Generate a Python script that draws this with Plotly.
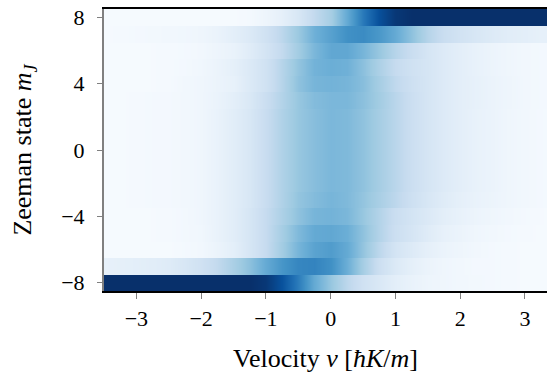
import plotly.graph_objects as go

# Velocity grid (hbar K / m) and Zeeman states
velocity = [-3.5, -3.25, -3.0, -2.75, -2.5, -2.25, -2.0, -1.75, -1.5, -1.25, -1.0, -0.75, -0.5, -0.25,
            0.0, 0.25, 0.5, 0.75, 1.0, 1.25, 1.5, 1.75, 2.0, 2.25, 2.5, 2.75, 3.0, 3.25, 3.5]
m_states = list(range(-8, 9))

# Population (normalised to colour scale) per Zeeman state
row_m8 = [1.0, 1.0, 1.0, 1.0, 1.0, 1.0, 1.0, 1.0, 1.0, 1.0, 0.97, 0.87, 0.71, 0.52,
          0.39, 0.28, 0.2, 0.15, 0.1, 0.07, 0.05, 0.04, 0.03, 0.025, 0.02, 0.015, 0.01, 0.01, 0.01]
row_m7 = [0.08, 0.09, 0.1, 0.11, 0.125, 0.16, 0.2, 0.26, 0.34, 0.42, 0.52, 0.61, 0.67, 0.68,
          0.63, 0.5, 0.35, 0.22, 0.14, 0.09, 0.06, 0.04, 0.03, 0.02, 0.02, 0.015, 0.01, 0.01, 0.01]
row_m6 = [0.01, 0.01, 0.01, 0.01, 0.01, 0.02, 0.03, 0.06, 0.1, 0.17, 0.25, 0.36, 0.47, 0.55,
          0.58, 0.52, 0.4, 0.28, 0.18, 0.13, 0.09, 0.06, 0.045, 0.03, 0.02, 0.015, 0.01, 0.01, 0.01]
row_m5 = [0.01, 0.01, 0.01, 0.012, 0.016, 0.025, 0.035, 0.07, 0.11, 0.17, 0.25, 0.35, 0.45, 0.52,
          0.53, 0.5, 0.41, 0.31, 0.22, 0.17, 0.12, 0.08, 0.06, 0.04, 0.03, 0.02, 0.015, 0.01, 0.01]
row_m4 = [0.01, 0.01, 0.01, 0.012, 0.016, 0.025, 0.04, 0.07, 0.11, 0.17, 0.25, 0.33, 0.41, 0.47,
          0.48, 0.46, 0.39, 0.31, 0.23, 0.18, 0.14, 0.1, 0.075, 0.055, 0.04, 0.03, 0.02, 0.012, 0.01]
row_m3 = [0.01, 0.01, 0.015, 0.02, 0.022, 0.03, 0.04, 0.07, 0.11, 0.16, 0.24, 0.32, 0.4, 0.44,
          0.47, 0.45, 0.4, 0.34, 0.28, 0.21, 0.16, 0.12, 0.09, 0.07, 0.055, 0.04, 0.03, 0.02, 0.015]
row_m2 = [0.01, 0.01, 0.015, 0.02, 0.022, 0.03, 0.04, 0.07, 0.11, 0.16, 0.24, 0.32, 0.39, 0.43,
          0.46, 0.45, 0.41, 0.35, 0.29, 0.22, 0.17, 0.13, 0.1, 0.075, 0.06, 0.04, 0.03, 0.02, 0.015]
row_m1 = [0.01, 0.01, 0.015, 0.02, 0.022, 0.03, 0.04, 0.07, 0.11, 0.16, 0.24, 0.32, 0.39, 0.43,
          0.46, 0.45, 0.41, 0.35, 0.29, 0.22, 0.17, 0.13, 0.1, 0.075, 0.06, 0.04, 0.03, 0.02, 0.015]
row_0 = [0.01, 0.01, 0.015, 0.02, 0.022, 0.03, 0.04, 0.07, 0.11, 0.16, 0.24, 0.32, 0.39, 0.43,
         0.46, 0.45, 0.41, 0.35, 0.29, 0.22, 0.17, 0.13, 0.1, 0.075, 0.06, 0.04, 0.03, 0.02, 0.015]
row_p1 = [0.01, 0.01, 0.015, 0.02, 0.022, 0.03, 0.04, 0.07, 0.11, 0.16, 0.24, 0.32, 0.39, 0.43,
          0.46, 0.45, 0.41, 0.35, 0.29, 0.22, 0.17, 0.13, 0.1, 0.075, 0.06, 0.04, 0.03, 0.02, 0.015]
row_p2 = [0.01, 0.01, 0.015, 0.02, 0.022, 0.03, 0.04, 0.07, 0.11, 0.16, 0.24, 0.32, 0.39, 0.43,
          0.46, 0.45, 0.41, 0.35, 0.29, 0.22, 0.17, 0.13, 0.1, 0.075, 0.06, 0.04, 0.03, 0.02, 0.015]
row_p3 = [0.01, 0.01, 0.015, 0.02, 0.022, 0.03, 0.04, 0.065, 0.1, 0.15, 0.23, 0.31, 0.39, 0.44,
          0.46, 0.46, 0.42, 0.36, 0.29, 0.22, 0.17, 0.13, 0.1, 0.08, 0.06, 0.045, 0.03, 0.022, 0.02]
row_p4 = [0.01, 0.01, 0.01, 0.012, 0.016, 0.03, 0.04, 0.06, 0.08, 0.14, 0.2, 0.3, 0.41, 0.47,
          0.48, 0.47, 0.43, 0.35, 0.27, 0.21, 0.17, 0.13, 0.1, 0.08, 0.06, 0.045, 0.03, 0.022, 0.02]
row_p5 = [0.01, 0.01, 0.01, 0.012, 0.016, 0.022, 0.035, 0.06, 0.09, 0.14, 0.2, 0.3, 0.4, 0.48,
          0.5, 0.49, 0.42, 0.33, 0.25, 0.2, 0.17, 0.13, 0.1, 0.075, 0.055, 0.04, 0.03, 0.022, 0.02]
row_p6 = [0.01, 0.01, 0.01, 0.012, 0.015, 0.02, 0.03, 0.05, 0.07, 0.12, 0.18, 0.26, 0.36, 0.46,
          0.53, 0.53, 0.47, 0.39, 0.3, 0.23, 0.17, 0.13, 0.1, 0.075, 0.055, 0.04, 0.03, 0.022, 0.02]
row_p7 = [0.01, 0.015, 0.02, 0.025, 0.03, 0.035, 0.045, 0.065, 0.1, 0.14, 0.2, 0.28, 0.38, 0.49,
          0.56, 0.63, 0.65, 0.6, 0.52, 0.41, 0.3, 0.23, 0.19, 0.16, 0.13, 0.11, 0.1, 0.085, 0.08]
row_p8 = [0.01, 0.01, 0.01, 0.01, 0.01, 0.01, 0.01, 0.01, 0.01, 0.02, 0.05, 0.09, 0.16, 0.26,
          0.35, 0.52, 0.72, 0.88, 0.97, 1.0, 1.0, 1.0, 1.0, 1.0, 1.0, 1.0, 1.0, 1.0, 1.0]

rows = [row_m8, row_m7, row_m6, row_m5, row_m4, row_m3, row_m2, row_m1, row_0,
        row_p1, row_p2, row_p3, row_p4, row_p5, row_p6, row_p7, row_p8]

x_ticks = [-3, -2, -1, 0, 1, 2, 3]
y_ticks = [-8, -4, 0, 4, 8]

blues = [[0.0, "rgb(247,251,255)"], [0.125, "rgb(222,235,247)"], [0.25, "rgb(198,219,239)"],
         [0.375, "rgb(158,202,225)"], [0.5, "rgb(107,174,214)"], [0.625, "rgb(66,146,198)"],
         [0.75, "rgb(33,113,181)"], [0.875, "rgb(8,81,156)"], [1.0, "rgb(8,48,107)"]]

# Each Zeeman state is a flat band: duplicate rows near the band edges so that
# smoothing acts only along the velocity axis.
half = 0.48
y_vals, z_vals = [], []
for m, r in zip(m_states, rows):
    y_vals += [m - half, m + half]
    z_vals += [r, r]

fig = go.Figure(go.Heatmap(
    x=velocity, y=y_vals, z=z_vals, colorscale=blues, zmin=0, zmax=1,
    zsmooth="best", showscale=False, hoverinfo="skip"))

font_family = "Liberation Serif"
fig.update_layout(
    width=547, height=381,
    margin=dict(l=104, r=0, t=9, b=90),
    paper_bgcolor="white", plot_bgcolor="white",
    font=dict(family=font_family, size=22, color="black"),
    showlegend=False,
)
fig.update_xaxes(
    range=[-3.5, 3.34], tickvals=x_ticks, ticks="outside", ticklen=6, tickwidth=1,
    tickcolor="#808080", showline=True, linecolor="black", linewidth=1.5, mirror=True,
    showgrid=False, zeroline=False, automargin=False, ticklabelstandoff=1,
    title=dict(text="Velocity <i>v</i> [<i>ħK</i>/<i>m</i>]", standoff=19),
)
fig.update_yaxes(
    range=[-8.5, 8.5], tickvals=y_ticks, ticks="outside", ticklen=5, tickwidth=1,
    tickcolor="#808080", showline=True, linecolor="#808080", linewidth=2,
    showgrid=False, zeroline=False, automargin=False, ticklabelstandoff=8,
    title=dict(text="Zeeman state <i>m</i><sub><i>J</i></sub>", standoff=22),
)

fig.write_html("out.html", config={"displayModeBar": False},
               post_script="document.body.style.margin='0';")
